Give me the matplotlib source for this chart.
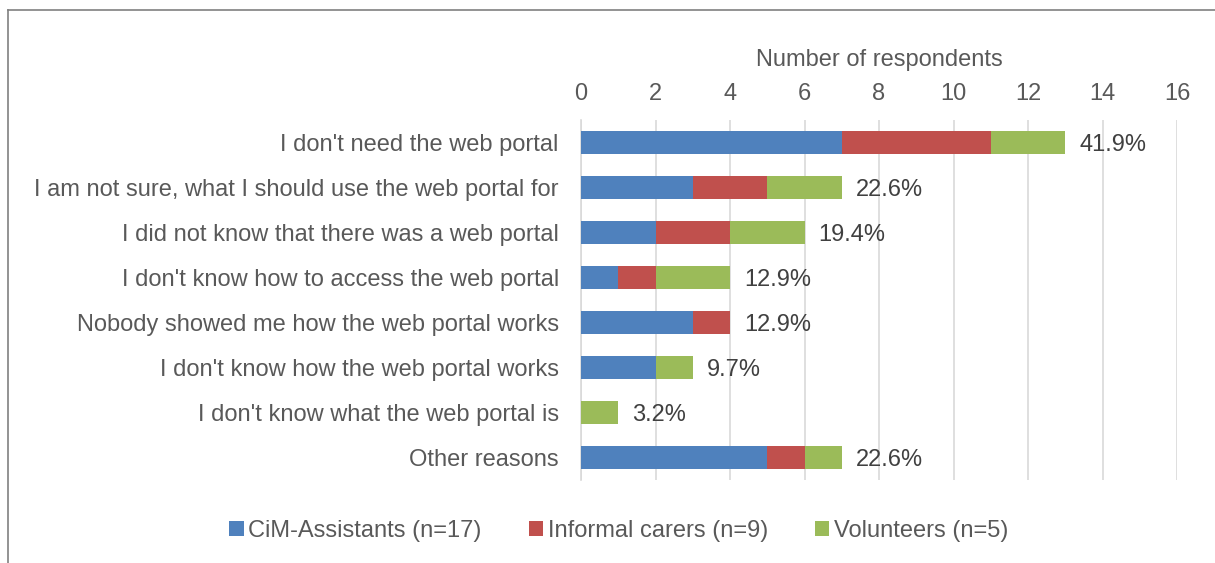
import matplotlib.pyplot as plt
import numpy as np

plt.rcParams['font.family'] = ['Liberation Sans', 'DejaVu Sans']

reasons = ["I don't need the web portal",
           "I am not sure, what I should use the web portal for",
           "I did not know that there was a web portal",
           "I don't know how to access the web portal",
           "Nobody showed me how the web portal works",
           "I don't know how the web portal works",
           "I don't know what the web portal is",
           "Other reasons"]
cim = [7, 3, 2, 1, 3, 2, 0, 5]
informal = [4, 2, 2, 1, 1, 0, 0, 1]
volunteers = [2, 2, 2, 2, 0, 1, 1, 1]
pct_labels = ['41.9%', '22.6%', '19.4%', '12.9%', '12.9%', '9.7%', '3.2%', '22.6%']
series_names = ['CiM-Assistants (n=17)', 'Informal carers (n=9)', 'Volunteers (n=5)']
colors = ['#4F81BD', '#C0504D', '#9BBB59']
txt = '#595959'
fs = 17

fig = plt.figure(figsize=(12.15, 5.63), dpi=100)
ax = fig.add_axes([581/1215, 1 - 480/563, 596/1215, 360/563])

y = np.arange(len(reasons))
left = np.zeros(len(reasons))
for vals, name, c in zip([cim, informal, volunteers], series_names, colors):
    ax.barh(y, vals, left=left, height=0.49, color=c, label=name, zorder=3)
    left += np.array(vals)

for yi, tot, lab in zip(y, left, pct_labels):
    ax.text(tot + 0.38, yi, lab, va='center_baseline', ha='left', fontsize=fs, color='#404040')

ax.set_xlim(0, 16)
ax.set_ylim(len(reasons) - 0.5, -0.5)
ax.set_xticks(range(0, 17, 2))
ax.set_yticks(y)
ax.set_yticklabels(reasons)
ax.xaxis.tick_top()
ax.xaxis.set_label_position('top')
ax.set_xlabel('Number of respondents', fontsize=fs, color=txt, labelpad=12)
ax.tick_params(axis='x', length=0, labelsize=fs, labelcolor=txt, pad=11)
ax.tick_params(axis='y', length=0, labelsize=fs, labelcolor=txt, pad=16)
ax.grid(axis='x', color='#D9D9D9', linewidth=1.2, zorder=0)
for s in ['top', 'right', 'bottom']:
    ax.spines[s].set_visible(False)
ax.spines['left'].set_color('#D9D9D9')
ax.spines['left'].set_linewidth(1.2)

fig.legend(loc='center', bbox_to_anchor=(619/1215, 1 - 531/563), ncol=3, frameon=False,
           fontsize=fs, labelcolor=txt, handlelength=0.6, handleheight=0.6,
           handletextpad=0.2, columnspacing=2.0)

# figure border (top and left only)
fig.add_artist(plt.Line2D([8/1215, 8/1215], [0, 1 - 10/563], color='#808080', lw=1.2))
fig.add_artist(plt.Line2D([8/1215, 1], [1 - 10/563, 1 - 10/563], color='#808080', lw=1.2))

fig.savefig('out.png', dpi=100)
